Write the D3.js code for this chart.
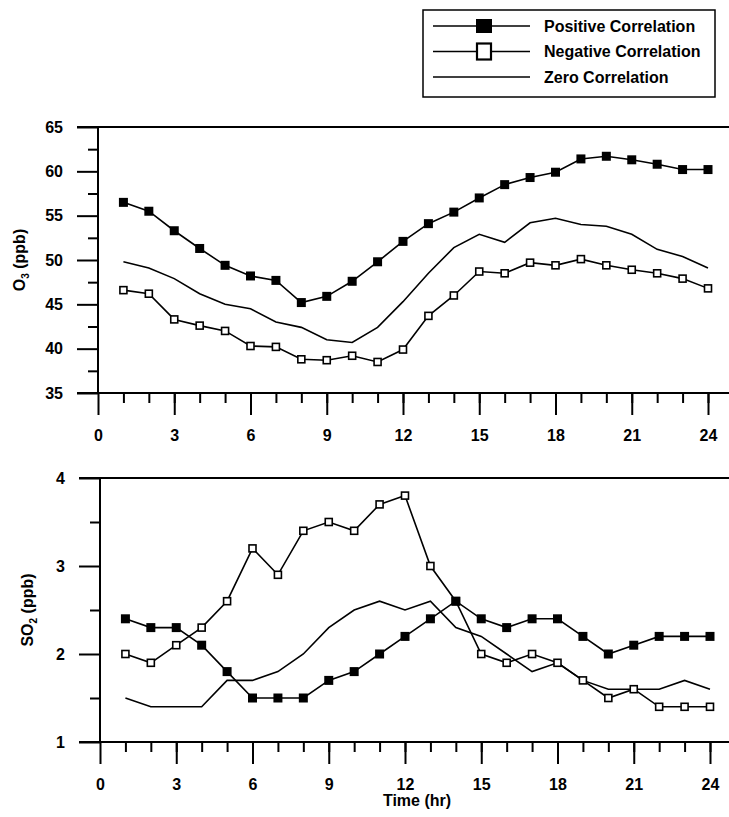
<!DOCTYPE html>
<html>
<head>
<meta charset="utf-8">
<script src="https://cdn.jsdelivr.net/npm/d3@7"></script>
<style>
  body { margin: 0; background: #fff; }
  svg { display: block; font-family: "Liberation Sans", Arial, sans-serif; }
  .axis text { font-size: 16px; font-weight: bold; fill: #000; }
  .axis line { stroke: #000; stroke-width: 2; }
</style>
</head>
<body>
<div id="chart"></div>
<script>
// data
var hours = [1, 2, 3, 4, 5, 6, 7, 8, 9, 10, 11, 12, 13, 14, 15, 16, 17, 18, 19, 20, 21, 22, 23, 24];

var o3Positive = [56.5, 55.5, 53.3, 51.3, 49.4, 48.2, 47.7, 45.2, 45.9, 47.6, 49.8, 52.1,
                  54.1, 55.4, 57.0, 58.5, 59.3, 59.9, 61.4, 61.7, 61.3, 60.8, 60.2, 60.2];
var o3Negative = [46.6, 46.2, 43.3, 42.6, 42.0, 40.3, 40.2, 38.8, 38.7, 39.2, 38.5, 39.9,
                  43.7, 46.0, 48.7, 48.5, 49.7, 49.4, 50.1, 49.4, 48.9, 48.5, 47.9, 46.8];
var o3Zero     = [49.8, 49.1, 47.9, 46.2, 45.0, 44.5, 43.0, 42.4, 41.0, 40.7, 42.4, 45.3,
                  48.5, 51.4, 52.9, 52.0, 54.2, 54.7, 54.0, 53.8, 52.9, 51.2, 50.4, 49.1];

var so2Positive = [2.4, 2.3, 2.3, 2.1, 1.8, 1.5, 1.5, 1.5, 1.7, 1.8, 2.0, 2.2,
                   2.4, 2.6, 2.4, 2.3, 2.4, 2.4, 2.2, 2.0, 2.1, 2.2, 2.2, 2.2];
var so2Negative = [2.0, 1.9, 2.1, 2.3, 2.6, 3.2, 2.9, 3.4, 3.5, 3.4, 3.7, 3.8,
                   3.0, 2.6, 2.0, 1.9, 2.0, 1.9, 1.7, 1.5, 1.6, 1.4, 1.4, 1.4];
var so2Zero     = [1.5, 1.4, 1.4, 1.4, 1.7, 1.7, 1.8, 2.0, 2.3, 2.5, 2.6, 2.5,
                   2.6, 2.3, 2.2, 2.0, 1.8, 1.9, 1.7, 1.6, 1.6, 1.6, 1.7, 1.6];

var xTicks = [0, 3, 6, 9, 12, 15, 18, 21, 24];
var o3Ticks = [35, 40, 45, 50, 55, 60, 65];
var o3Minor = [37.5, 42.5, 47.5, 52.5, 57.5, 62.5];
var so2Ticks = [1, 2, 3, 4];
var so2Minor = [1.5, 2.5, 3.5];

var legendNames = ["Positive Correlation", "Negative Correlation", "Zero Correlation"];

var svgWidth = 729;
var svgHeight = 817;

var svg = d3.select("#chart")
  .append("svg")
  .attr("width", svgWidth)
  .attr("height", svgHeight);

function drawPanel(p) {
  var x = d3.scaleLinear().domain([0, 24]).range([p.left, p.left + 610]);
  var y = d3.scaleLinear().domain(p.domain).range([p.bottom, p.top]);
  var g = svg.append("g");

  // frame lines (top border + x baseline, both run past the y axis)
  g.append("line")
    .attr("x1", p.left - 21).attr("x2", svgWidth)
    .attr("y1", p.top).attr("y2", p.top)
    .attr("stroke", "#000").attr("stroke-width", 2);
  g.append("line")
    .attr("x1", p.left - 21).attr("x2", svgWidth)
    .attr("y1", p.bottom).attr("y2", p.bottom)
    .attr("stroke", "#000").attr("stroke-width", 2);
  g.append("line")
    .attr("x1", p.left).attr("x2", p.left)
    .attr("y1", p.top).attr("y2", p.bottom)
    .attr("stroke", "#000").attr("stroke-width", 2);

  // x axis
  var xMinor = g.append("g").attr("class", "axis")
    .attr("transform", `translate(0, ${p.bottom})`)
    .call(d3.axisBottom(x).tickValues(hours).tickSize(10).tickFormat(""));
  xMinor.select(".domain").remove();

  var xMajor = g.append("g").attr("class", "axis")
    .attr("transform", `translate(0, ${p.bottom})`)
    .call(d3.axisBottom(x).tickValues(xTicks).tickSize(22).tickPadding(15).tickFormat(d3.format("d")));
  xMajor.select(".domain").remove();

  // y axis
  var yMinor = g.append("g").attr("class", "axis")
    .attr("transform", `translate(${p.left}, 0)`)
    .call(d3.axisLeft(y).tickValues(p.minor).tickSize(10).tickFormat(""));
  yMinor.select(".domain").remove();

  var yMajor = g.append("g").attr("class", "axis")
    .attr("transform", `translate(${p.left}, 0)`)
    .call(d3.axisLeft(y).tickValues(p.ticks).tickSize(21).tickPadding(14).tickFormat(d3.format("d")));
  yMajor.select(".domain").remove();

  // y label with subscript
  var lab = g.append("text")
    .attr("transform", `translate(${p.labelX}, ${(p.top + p.bottom) / 2}) rotate(-90)`)
    .attr("text-anchor", "middle")
    .attr("font-size", "16px")
    .attr("font-weight", "bold");
  lab.append("tspan").text(p.label[0]);
  lab.append("tspan").attr("font-size", "10px").attr("dy", 4).text(p.label[1]);
  lab.append("tspan").attr("dy", -4).text(" (ppb)");

  var line = d3.line().x((d, i) => x(hours[i])).y(d => y(d));

  // zero correlation
  g.append("path").datum(p.zero)
    .attr("d", line).attr("fill", "none")
    .attr("stroke", "#000").attr("stroke-width", 1.6);

  // negative correlation (open squares)
  g.append("path").datum(p.negative)
    .attr("d", line).attr("fill", "none")
    .attr("stroke", "#000").attr("stroke-width", 1.6);
  g.selectAll("rect.neg").data(p.negative).enter()
    .append("rect").classed("neg", true)
    .attr("x", (d, i) => x(hours[i]) - 3.5)
    .attr("y", d => y(d) - 3.5)
    .attr("width", 7).attr("height", 7)
    .attr("fill", "#fff").attr("stroke", "#000").attr("stroke-width", 1.6);

  // positive correlation (filled squares)
  g.append("path").datum(p.positive)
    .attr("d", line).attr("fill", "none")
    .attr("stroke", "#000").attr("stroke-width", 1.6);
  g.selectAll("rect.pos").data(p.positive).enter()
    .append("rect").classed("pos", true)
    .attr("x", (d, i) => x(hours[i]) - 4.5)
    .attr("y", d => y(d) - 4.5)
    .attr("width", 9).attr("height", 9)
    .attr("fill", "#000");

  return g;
}

drawPanel({
  left: 98, top: 127, bottom: 393,
  domain: [35, 65], ticks: o3Ticks, minor: o3Minor,
  label: ["O", "3"], labelX: 25,
  positive: o3Positive, negative: o3Negative, zero: o3Zero
});

drawPanel({
  left: 100, top: 478, bottom: 742,
  domain: [1, 4], ticks: so2Ticks, minor: so2Minor,
  label: ["SO", "2"], labelX: 33,
  positive: so2Positive, negative: so2Negative, zero: so2Zero
});

// x title
svg.append("text")
  .attr("x", 417).attr("y", 806)
  .attr("text-anchor", "middle")
  .attr("font-size", "16px")
  .attr("font-weight", "bold")
  .text("Time (hr)");

// legend
var legend = svg.append("g");
legend.append("rect")
  .attr("x", 423).attr("y", 10)
  .attr("width", 292).attr("height", 87)
  .attr("fill", "#fff").attr("stroke", "#000").attr("stroke-width", 1.5);

var rows = legend.selectAll("g.row").data(legendNames).enter()
  .append("g").classed("row", true)
  .attr("transform", (d, i) => `translate(0, ${26 + i * 25.5})`);

rows.append("line")
  .attr("x1", 433).attr("x2", 530)
  .attr("stroke", "#000").attr("stroke-width", 1.6);

rows.filter((d, i) => i < 2).append("rect")
  .attr("x", (d, i) => i === 0 ? 476 : 477)
  .attr("y", (d, i) => i === 0 ? -7 : -8)
  .attr("width", (d, i) => i === 0 ? 16 : 14)
  .attr("height", (d, i) => i === 0 ? 14 : 16)
  .attr("fill", (d, i) => i === 0 ? "#000" : "#fff")
  .attr("stroke", "#000")
  .attr("stroke-width", (d, i) => i === 0 ? 0 : 2.2);

rows.append("text")
  .attr("x", 544).attr("dy", "0.35em")
  .attr("font-size", "16px")
  .attr("font-weight", "bold")
  .text(d => d);
</script>
</body>
</html>
